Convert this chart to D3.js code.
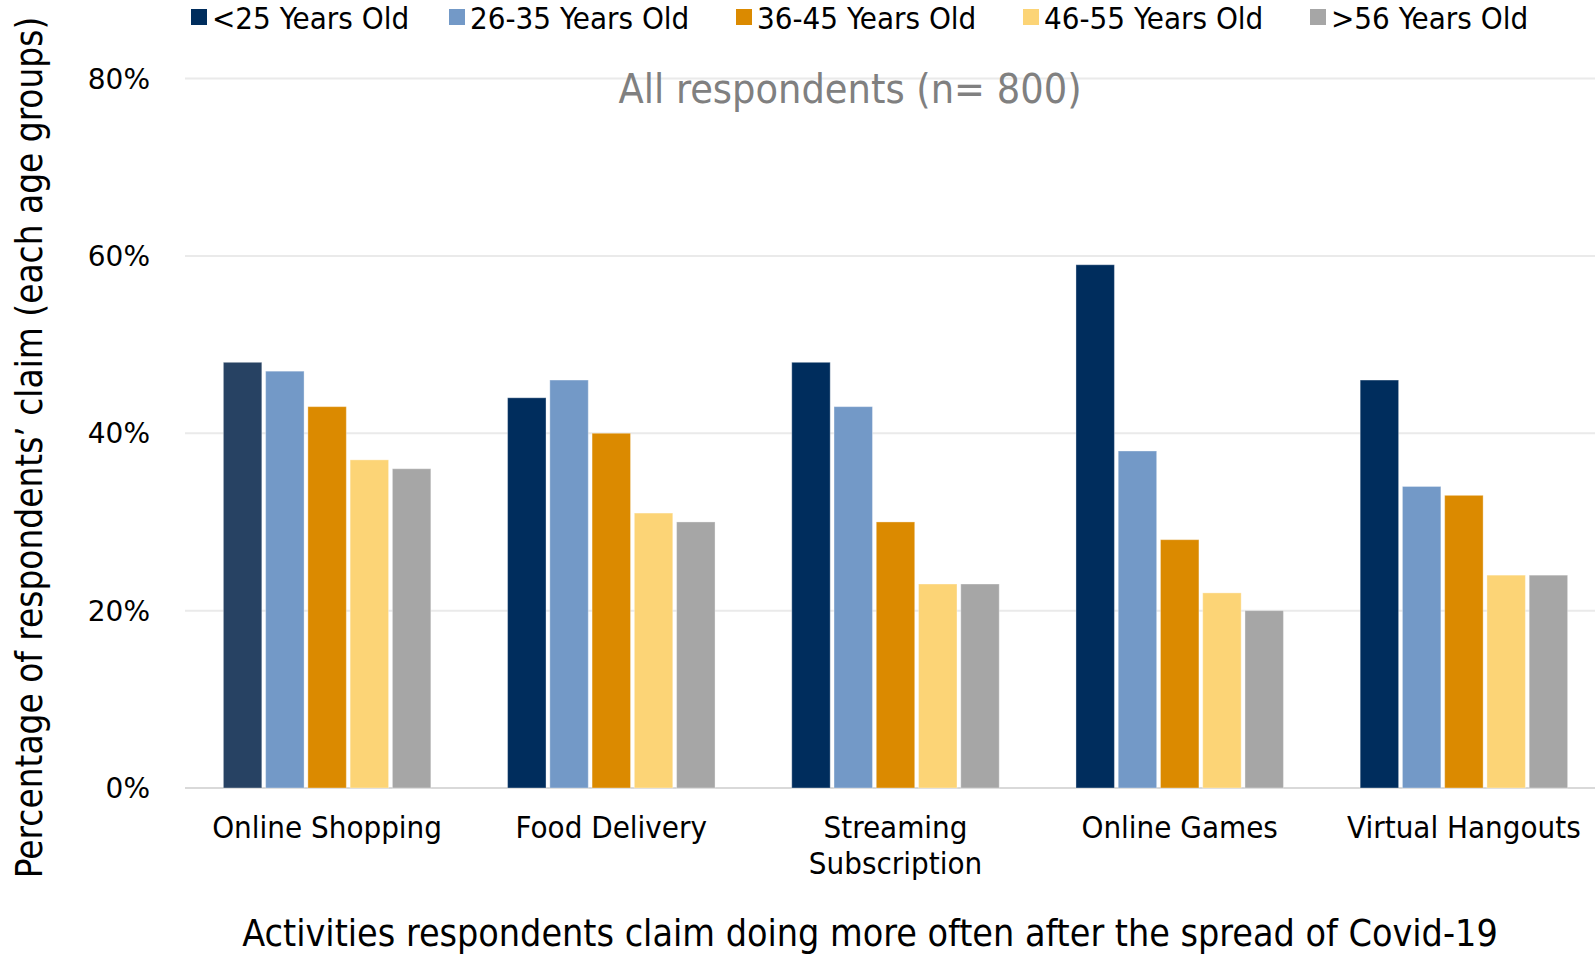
<!DOCTYPE html>
<html>
<head>
<meta charset="utf-8">
<script src="https://cdn.jsdelivr.net/npm/d3@7"></script>
<style>
  html, body { margin: 0; padding: 0; background: #fff; }
  svg { display: block; }
</style>
</head>
<body>
<svg id="chart" width="1595" height="955"></svg>
<script>
// Activities done more often after Covid-19, by age group (percent of respondents)
const categories = ["Online Shopping", "Food Delivery", "Streaming Subscription", "Online Games", "Virtual Hangouts"];
const seriesNames = ["<25 Years Old", "26-35 Years Old", "36-45 Years Old", "46-55 Years Old", ">56 Years Old"];
const under25 = [48, 44, 48, 59, 46];
const age26to35 = [47, 46, 43, 38, 34];
const age36to45 = [43, 40, 30, 28, 33];
const age46to55 = [37, 31, 23, 22, 24];
const over56 = [36, 30, 23, 20, 24];
const yTicks = [0, 20, 40, 60, 80];

const seriesValues = [under25, age26to35, age36to45, age46to55, over56];
const colors = ["#002D5D", "#7399C7", "#DB8A00", "#FCD476", "#A6A6A6"];

const FONT = "'DejaVu Sans Condensed', 'DejaVu Sans', sans-serif";
const svg = d3.select("#chart");

const plotLeft = 185, plotRight = 1606, plotTop = 78.5, plotBottom = 788;

const x0 = d3.scaleBand().domain(categories).range([plotLeft, plotRight])
  .paddingInner(0.27).paddingOuter(0.135);
const x1 = d3.scaleBand().domain(seriesNames).range([0, x0.bandwidth()]).paddingInner(0.09);
const y = d3.scaleLinear().domain([0, 80]).range([plotBottom, plotTop]);

// horizontal gridlines
svg.append("g").selectAll("line").data(yTicks).join("line")
  .attr("x1", plotLeft).attr("x2", plotRight)
  .attr("y1", d => y(d)).attr("y2", d => y(d))
  .attr("stroke", d => d === 0 ? "#D9D9D9" : "#EAEAEA")
  .attr("stroke-width", 2);

// y tick labels
svg.append("g").selectAll("text").data(yTicks).join("text")
  .attr("x", 150).attr("y", d => y(d))
  .attr("dy", "0.36em")
  .attr("text-anchor", "end")
  .attr("font-family", "'DejaVu Sans', sans-serif")
  .attr("font-size", 28)
  .attr("fill", "#000")
  .text(d => d + "%");

// bars
const rows = [];
seriesNames.forEach((s, si) => {
  categories.forEach((c, ci) => rows.push({ series: s, si, cat: c, ci, value: seriesValues[si][ci] }));
});
svg.append("g").selectAll("rect").data(rows).join("rect")
  .attr("x", d => x0(d.cat) + x1(d.series))
  .attr("y", d => y(d.value))
  .attr("width", x1.bandwidth())
  .attr("height", d => y(0) - y(d.value))
  // the first point of the youngest group carries its own, softer navy
  .attr("fill", d => (d.si === 0 && d.ci === 0) ? "#274263" : colors[d.si])
  .attr("stroke", "rgba(255,255,255,0.35)")
  .attr("stroke-width", 1);

// category labels, two lines where the name is long
const catLines = { "Streaming Subscription": ["Streaming", "Subscription"] };
const catG = svg.append("g").selectAll("text").data(categories).join("text")
  .attr("x", d => x0(d) + x0.bandwidth() / 2)
  .attr("y", 838)
  .attr("text-anchor", "middle")
  .attr("font-family", FONT)
  .attr("font-size", 31)
  .attr("fill", "#000");
catG.each(function (d) {
  const lines = catLines[d] || [d];
  const t = d3.select(this);
  lines.forEach((ln, i) => {
    t.append("tspan").attr("x", x0(d) + x0.bandwidth() / 2).attr("y", 838 + i * 36).text(ln);
  });
});

// subtitle inside the plot
svg.append("text")
  .attr("x", 850).attr("y", 103)
  .attr("text-anchor", "middle")
  .attr("font-family", FONT)
  .attr("font-size", 41)
  .attr("fill", "#808080")
  .text("All respondents (n= 800)");

// x axis title
svg.append("text")
  .attr("x", 870).attr("y", 946)
  .attr("text-anchor", "middle")
  .attr("font-family", FONT)
  .attr("font-size", 37.3)
  .attr("fill", "#000")
  .text("Activities respondents claim doing more often after the spread of Covid-19");

// y axis title
svg.append("text")
  .attr("transform", "translate(42,447.5) rotate(-90)")
  .attr("text-anchor", "middle")
  .attr("font-family", FONT)
  .attr("font-size", 36.6)
  .attr("fill", "#000")
  .text("Percentage of respondents’ claim (each age groups)");

// legend
const legendX = [191, 449, 736, 1023, 1310];
const leg = svg.append("g").selectAll("g").data(seriesNames).join("g")
  .attr("transform", (d, i) => `translate(${legendX[i]},0)`);
leg.append("rect").attr("x", 0).attr("y", 9).attr("width", 16).attr("height", 16)
  .attr("fill", (d, i) => colors[i]);
leg.append("text").attr("x", 21).attr("y", 29)
  .attr("font-family", FONT).attr("font-size", 31).attr("fill", "#000")
  .text(d => d);
</script>
</body>
</html>
